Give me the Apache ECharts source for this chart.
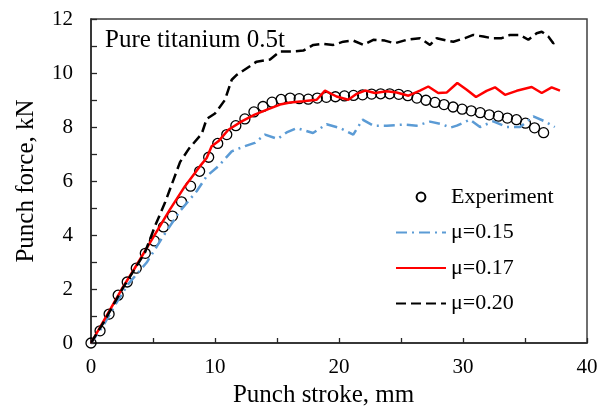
<!DOCTYPE html>
<html>
<head>
<meta charset="utf-8">
<script src="https://cdn.jsdelivr.net/npm/echarts@6/dist/echarts.min.js"></script>
<style>html,body{margin:0;padding:0;background:#fff}#c{width:610px;height:413px}</style>
</head>
<body>
<div id="c"></div>
<script>
const expX = [0,0.73,1.46,2.19,2.92,3.65,4.38,5.11,5.84,6.57,7.30,8.03,8.76,9.49,10.22,10.95,11.68,12.41,13.14,13.87,14.60,15.33,16.06,16.79,17.52,18.25,18.98,19.71,20.44,21.17,21.90,22.63,23.36,24.09,24.82,25.55,26.28,27.01,27.74,28.47,29.20,29.93,30.66,31.39,32.12,32.85,33.58,34.31,35.04,35.77,36.50];
const expY = [0,0.45,1.07,1.77,2.26,2.77,3.32,3.78,4.30,4.70,5.23,5.81,6.36,6.88,7.39,7.72,8.05,8.30,8.56,8.76,8.92,9.02,9.07,9.05,9.03,9.07,9.10,9.12,9.15,9.17,9.19,9.22,9.23,9.23,9.21,9.16,9.07,8.99,8.91,8.83,8.74,8.66,8.60,8.53,8.45,8.40,8.33,8.27,8.14,7.97,7.79];

const mu015X = [0,1.0,2.0,3.0,4.49,5.83,7.18,8.52,9.33,10.27,11.35,12.42,13.2,14.03,15.05,15.78,16.6,17.9,19.0,20.1,21.15,21.9,22.77,23.85,25.19,26.27,27.34,28.3,29.0,29.5,30.56,31.37,32.44,33.52,34.6,35.67,36.6,37.4];
const mu015Y = [0,0.65,1.45,2.18,2.98,3.96,4.89,5.62,6.18,6.55,7.1,7.29,7.41,7.72,7.56,7.8,7.96,7.78,8.1,7.96,7.72,8.27,8.05,8.05,8.09,8.05,8.2,8.1,7.98,8.05,8.27,8.0,8.21,8.0,8.0,8.39,8.21,8.0];

const mu017X = [0,1.0,2.47,3.5,4.76,6.37,7.58,8.79,9.33,9.73,10.27,11.08,12.15,13.2,14.3,15.24,16.05,17.1,18.2,18.87,19.8,20.75,21.43,22.1,22.9,23.85,24.65,25.6,26.53,27.2,28.0,28.7,29.54,30.3,31.05,31.9,32.58,33.39,34.33,35.54,36.35,37.15,37.82];
const mu017Y = [0,0.8,1.99,2.75,3.72,4.95,5.81,6.55,6.85,7.29,7.47,7.9,8.21,8.46,8.66,8.83,8.91,8.95,9.01,9.35,9.13,9.01,9.23,9.35,9.26,9.32,9.28,9.16,9.35,9.5,9.26,9.28,9.63,9.38,9.11,9.34,9.47,9.19,9.34,9.48,9.26,9.47,9.35];

const mu020X = [0,1.0,2.6,4.35,5.16,5.97,7.18,7.9,8.93,9.33,10.0,10.8,11.35,11.75,13.36,14.44,15.24,16.3,17.12,17.93,18.73,19.54,20.35,21.15,21.96,22.77,23.7,24.5,25.46,26.53,27.34,27.88,28.68,29.22,30.16,30.83,31.64,32.31,33.12,33.79,34.6,35.27,35.94,36.35,36.88,37.28,37.55];
const mu020Y = [0,0.75,2.06,3.35,4.33,5.2,6.7,7.2,7.75,8.3,8.5,9.0,9.75,9.93,10.42,10.5,10.8,10.8,10.83,11.04,11.08,11.04,11.16,11.2,11.04,11.23,11.2,11.1,11.23,11.29,11.04,11.29,11.2,11.16,11.29,11.41,11.35,11.29,11.29,11.41,11.41,11.23,11.47,11.53,11.35,11.1,11.16];

const seriesNames = ['Experiment','μ=0.15','μ=0.17','μ=0.20'];
const xTickLabels = [0,10,20,30,40];
const yTickLabels = [0,2,4,6,8,10,12];
const titleText = 'Pure titanium 0.5t';
const xName = 'Punch stroke, mm';
const yName = 'Punch force, kN';

const zip = (xs, ys) => xs.map((x, i) => [x, ys[i]]);
const FONT = "'Liberation Serif','Times New Roman',serif";
const AX = '#262626';

const chart = echarts.init(document.getElementById('c'), null, {renderer: 'canvas'});
chart.setOption({
  animation: false,
  backgroundColor: '#fff',
  textStyle: {fontFamily: FONT, color: '#000'},
  grid: {left: 91, right: 23, top: 19, bottom: 69, show: true, borderColor: '#404040', borderWidth: 1.5, backgroundColor: '#fff'},
  graphic: [{
    type: 'text', x: 105, y: 40,
    style: {text: titleText, font: "25px 'Liberation Serif','Times New Roman',serif", fill: '#000', verticalAlign: 'middle', align: 'left'}
  }],
  xAxis: {
    type: 'value', min: 0, max: 40, interval: 5,
    name: xName, nameLocation: 'middle', nameGap: 40,
    nameTextStyle: {fontFamily: FONT, fontSize: 25, color: '#000', padding: [0, 31, 0, 0]},
    axisLine: {show: true, lineStyle: {color: AX, width: 1.5}},
    axisTick: {show: true, inside: true, length: 5, lineStyle: {color: AX, width: 1.3}},
    splitLine: {show: false},
    axisLabel: {fontFamily: FONT, fontSize: 21, color: '#000', margin: 14,
      formatter: v => xTickLabels.indexOf(v) >= 0 ? String(v) : ''}
  },
  yAxis: {
    type: 'value', min: 0, max: 12, interval: 1,
    name: yName, nameLocation: 'middle', nameGap: 52,
    nameTextStyle: {fontFamily: FONT, fontSize: 25, color: '#000'},
    axisLine: {show: true, lineStyle: {color: AX, width: 1.5}},
    axisTick: {show: true, inside: true, length: 6, lineStyle: {color: AX, width: 1.3}},
    splitLine: {show: false},
    axisLabel: {fontFamily: FONT, fontSize: 21, color: '#000', margin: 18,
      formatter: v => yTickLabels.indexOf(v) >= 0 ? String(v) : ''}
  },
  legend: {
    orient: 'vertical', left: 390, top: 181, itemWidth: 50, itemHeight: 11, itemGap: 13.5,
    textStyle: {fontFamily: FONT, fontSize: 22, color: '#000'},
    data: [
      {name: seriesNames[0]},
      {name: seriesNames[1], itemStyle: {opacity: 0}},
      {name: seriesNames[2], itemStyle: {opacity: 0}},
      {name: seriesNames[3], itemStyle: {opacity: 0}}
    ]
  },
  series: [
    {
      name: seriesNames[0], type: 'line', data: zip(expX, expY),
      symbol: 'circle', symbolSize: 10, showSymbol: true,
      lineStyle: {width: 0, opacity: 0},
      itemStyle: {color: 'rgba(255,255,255,0)', borderColor: '#000', borderWidth: 1.3},
      z: 2
    },
    {
      name: seriesNames[1], type: 'line', data: zip(mu015X, mu015Y), symbol: 'none',
      lineStyle: {color: '#5B9BD5', width: 2.5, type: [11, 5, 2, 5]},
      itemStyle: {color: '#5B9BD5'}, z: 3
    },
    {
      name: seriesNames[2], type: 'line', data: zip(mu017X, mu017Y), symbol: 'none',
      lineStyle: {color: '#FF0000', width: 2.5, type: 'solid'},
      itemStyle: {color: '#FF0000'}, z: 3
    },
    {
      name: seriesNames[3], type: 'line', data: zip(mu020X, mu020Y), symbol: 'none',
      lineStyle: {color: '#000', width: 2.5, type: [10, 5]},
      itemStyle: {color: '#000'}, z: 3
    }
  ]
});
</script>
</body>
</html>
